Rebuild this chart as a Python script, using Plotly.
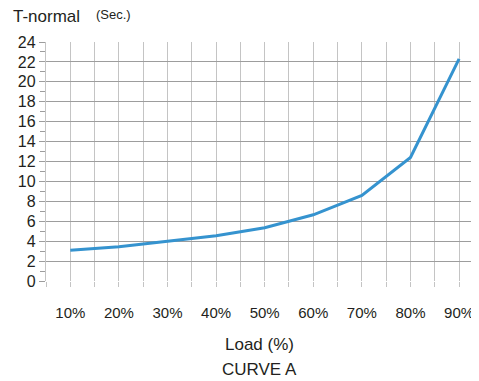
import plotly.graph_objects as go

# Curve A: trip time vs load
load_pct = [10, 20, 30, 40, 50, 60, 70, 80, 90]
t_normal = [3.1, 3.45, 4.0, 4.55, 5.35, 6.65, 8.6, 12.4, 22.3]
x_tick_text = ["10%", "20%", "30%", "40%", "50%", "60%", "70%", "80%", "90%"]
y_ticks = list(range(0, 25, 2))

font_fam = "Liberation Sans, Arial, sans-serif"
txt_col = "#231f20"
hgrid = "#9d9d9d"
vgrid = "#c4c4c4"

# page body has an 8px margin, so the figure is drawn 8px smaller
fig_w, fig_h = 471, 373

fig = go.Figure()

fig.add_trace(go.Scatter(
    x=load_pct, y=t_normal, mode="lines",
    line=dict(color="#3593cf", width=3),
    showlegend=False, hoverinfo="skip"
))

# ── Axis titles / labels ────────────────────────────────────────────────────
fig.add_annotation(
    x=-0.081, y=1.105, xref="paper", yref="paper", xanchor="left", yanchor="middle",
    text="T-normal", showarrow=False, font=dict(size=17, color=txt_col)
)
fig.add_annotation(
    x=0.111, y=1.114, xref="paper", yref="paper", xanchor="left", yanchor="middle",
    text="(Sec.)", showarrow=False, font=dict(size=13, color=txt_col)
)
fig.add_annotation(
    x=0.493, y=-0.264, xref="paper", yref="paper", xanchor="center", yanchor="middle",
    text="Load (%)", showarrow=False, font=dict(size=17, color=txt_col)
)
fig.add_annotation(
    x=0.493, y=-0.372, xref="paper", yref="paper", xanchor="center", yanchor="middle",
    text="CURVE A", showarrow=False, font=dict(size=17, color=txt_col)
)

fig.update_layout(
    width=fig_w, height=fig_h,
    margin=dict(l=38, r=0, t=34, b=100),
    paper_bgcolor="white", plot_bgcolor="white",
    font=dict(family=font_fam, color=txt_col, size=15),
    xaxis=dict(
        range=[5, 94.1],
        tickvals=load_pct, ticktext=x_tick_text, ticks="",
        showgrid=True, gridcolor=vgrid, gridwidth=1.3,
        zeroline=False, showline=False,
        ticklabelstandoff=21,
        tickfont=dict(size=15, color=txt_col),
        minor=dict(
            tick0=5, dtick=5, ticks="outside", ticklen=5,
            tickcolor=vgrid, tickwidth=1.3,
            showgrid=True, gridcolor=vgrid, gridwidth=1.3
        ),
    ),
    yaxis=dict(
        range=[0, 24],
        tickvals=y_ticks, ticks="outside", ticklen=6,
        tickcolor=hgrid, tickwidth=1.3,
        showgrid=True, gridcolor=hgrid, gridwidth=1.3,
        zeroline=False, showline=True, linecolor=vgrid, linewidth=1.3,
        tickfont=dict(size=16, color=txt_col),
        minor=dict(
            tick0=1, dtick=2, ticks="outside", ticklen=5,
            tickcolor=hgrid, tickwidth=1.3, showgrid=False
        ),
    ),
)

fig.write_html("out.html")
